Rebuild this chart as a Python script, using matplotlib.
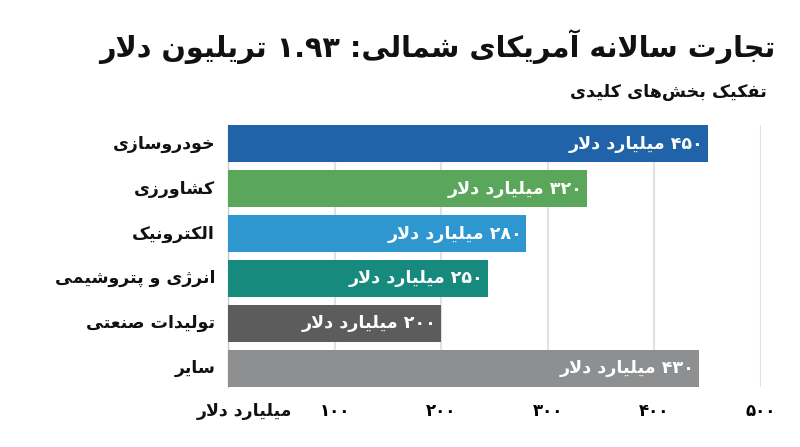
import re
import matplotlib
matplotlib.use('Agg')
import matplotlib.pyplot as plt
from matplotlib import font_manager, ft2font

# data
categories = ['خودروسازی', 'کشاورزی', 'الکترونیک', 'انرژی و پتروشیمی', 'تولیدات صنعتی', 'سایر']
values = [450, 320, 280, 250, 200, 430]
# the source picture draws some bars a bit off their labels; lengths
bar_lengths = [450, 337, 280, 244, 200, 442]
colors = ['#2063a8', '#5aa65a', '#2f97d0', '#178a7e', '#5c5c5c', '#8e8f91']
ticks = [100, 200, 300, 400, 500]
unit = 'میلیارد دلار'
title = 'تجارت سالانه آمریکای شمالی: ۱.۹۳ تریلیون دلار'
subtitle = 'تفکیک بخش\u200cهای کلیدی'

# --- minimal arabic/persian shaping (matplotlib has no text shaping) ---
FORMS = {}
for ch, start in [('\u0628', 0xFE8F), ('\u062A', 0xFE95), ('\u062B', 0xFE99), ('\u062C', 0xFE9D),
                  ('\u062D', 0xFEA1), ('\u062E', 0xFEA5), ('\u0633', 0xFEB1), ('\u0634', 0xFEB5),
                  ('\u0635', 0xFEB9), ('\u0636', 0xFEBD), ('\u0637', 0xFEC1), ('\u0638', 0xFEC5),
                  ('\u0639', 0xFEC9), ('\u063A', 0xFECD), ('\u0641', 0xFED1), ('\u0642', 0xFED5),
                  ('\u0643', 0xFED9), ('\u0644', 0xFEDD), ('\u0645', 0xFEE1), ('\u0646', 0xFEE5),
                  ('\u0647', 0xFEE9), ('\u064A', 0xFEF1), ('\u067E', 0xFB56), ('\u0686', 0xFB7A),
                  ('\u06A9', 0xFB8E), ('\u06AF', 0xFB92), ('\u06CC', 0xFBFC)]:
    FORMS[ch] = (start, start + 1, start + 2, start + 3)
for ch, start in [('\u0622', 0xFE81), ('\u0627', 0xFE8D), ('\u062F', 0xFEA9), ('\u0630', 0xFEAB),
                  ('\u0631', 0xFEAD), ('\u0632', 0xFEAF), ('\u0648', 0xFEED), ('\u0649', 0xFEEF),
                  ('\u0698', 0xFB8A)]:
    FORMS[ch] = (start, start + 1, None, None)
LAM_ALEF = {'\u0627': (0xFEFB, 0xFEFC), '\u0622': (0xFEF5, 0xFEF6)}
FALLBACK = {0xFBFC: 0xFEEF, 0xFBFD: 0xFEF0, 0xFBFE: 0xFEF3, 0xFBFF: 0xFEF4,
            0xFB8E: 0xFED9, 0xFB8F: 0xFEDA, 0xFB90: 0xFEDB, 0xFB91: 0xFEDC,
            0xFB56: 0xFE8F, 0xFB57: 0xFE90, 0xFB58: 0xFE91, 0xFB59: 0xFE92,
            0xFB8A: 0xFEAF, 0xFB8B: 0xFEB0}

WEIGHT = 'bold'
path = font_manager.findfont(font_manager.FontProperties(family='DejaVu Sans', weight='bold'))
cmap = ft2font.FT2Font(path).get_charmap()
if 0xFE8D not in cmap:
    WEIGHT = 'normal'
    path = font_manager.findfont(font_manager.FontProperties(family='DejaVu Sans'))
    cmap = ft2font.FT2Font(path).get_charmap()


def glyph(code):
    if code not in cmap and code in FALLBACK:
        code = FALLBACK[code]
    return chr(code)


def shape(s):
    out = []
    i = 0
    n = len(s)
    while i < n:
        c = s[i]
        if c not in FORMS:
            if c != '\u200c':
                out.append(c)
            i += 1
            continue
        prev = s[i - 1] if i > 0 else ''
        jp = prev in FORMS and FORMS[prev][2] is not None
        if c == '\u0644' and i + 1 < n and s[i + 1] in LAM_ALEF:
            iso, fin = LAM_ALEF[s[i + 1]]
            out.append(glyph(fin if jp else iso))
            i += 2
            continue
        nxt = s[i + 1] if i + 1 < n else ''
        f = FORMS[c]
        jn = f[2] is not None and nxt in FORMS
        if jp and jn:
            code = f[3]
        elif jp:
            code = f[1]
        elif jn:
            code = f[2]
        else:
            code = f[0]
        out.append(glyph(code))
        i += 1
    return ''.join(out)


def rtl(s):
    t = shape(s)[::-1]
    return re.sub(r'[0-9\u06F0-\u06F9.]+', lambda m: m.group(0)[::-1], t)


def fa(n):
    return str(n).translate(str.maketrans('0123456789', '۰۱۲۳۴۵۶۷۸۹'))


plt.rcParams['font.family'] = ['DejaVu Sans']
plt.rcParams['font.weight'] = WEIGHT

fig = plt.figure(figsize=(8, 4.47), dpi=100)
ax = fig.add_axes([0.285, 0.1342, 0.666, 0.5862])

y = list(range(len(categories)))
ax.barh(y, bar_lengths, height=0.83, color=colors, zorder=3)
ax.set_xlim(0, 500)
ax.set_ylim(len(categories) - 1 + 0.415, -0.415)

ax.grid(axis='x', color='#e2e2e2', lw=1.5, zorder=0)
ax.set_axisbelow(True)
for s in ['top', 'right', 'bottom']:
    ax.spines[s].set_visible(False)
ax.spines['left'].set_color('#c8c8c8')
ax.spines['left'].set_linewidth(1)

ax.set_yticks([])
ax.set_xticks(ticks, [rtl(fa(t)) for t in ticks])
ax.tick_params(axis='x', length=0, pad=11, labelsize=12)
for lab in ax.get_xticklabels():
    lab.set_fontweight(WEIGHT)

for i, (cat, v, b) in enumerate(zip(categories, values, bar_lengths)):
    ax.text(-0.024, i, rtl(cat), transform=ax.get_yaxis_transform(),
            ha='right', va='center', fontsize=12.5, fontweight=WEIGHT, color='#111111')
    ax.annotate(rtl(fa(v) + ' ' + unit), xy=(b, i), xytext=(-3, 0), textcoords='offset points',
                ha='right', va='center', fontsize=12.6, fontweight=WEIGHT, color='white', zorder=4)

ax.text(0.12, -0.0916, rtl(unit), transform=ax.transAxes, ha='right', va='center',
        fontsize=12.5, fontweight=WEIGHT, color='#111111')

fig.text(0.969, 0.895, rtl(title), ha='right', va='center', fontsize=20.6, fontweight=WEIGHT, color='#111111')
fig.text(0.959, 0.794, rtl(subtitle), ha='right', va='center', fontsize=12.6, fontweight=WEIGHT, color='#111111')

fig.savefig('out.png', dpi=100)
